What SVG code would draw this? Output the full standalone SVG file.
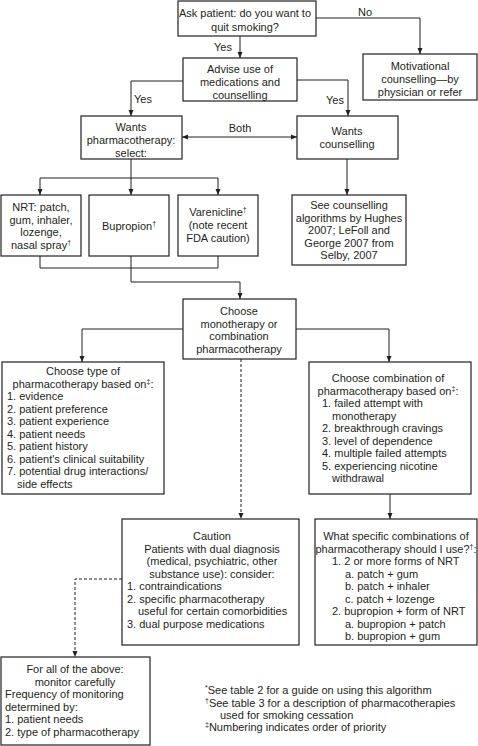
<svg xmlns="http://www.w3.org/2000/svg" width="478" height="746" viewBox="0 0 478 746">
<style>
.box{fill:#fff;stroke:#231f20;stroke-width:1.2}
.ln{fill:none;stroke:#231f20;stroke-width:1}
.dash{stroke-dasharray:3,2}
text{font-family:"Liberation Sans",Arial,sans-serif;font-size:11px;fill:#231f20}
.c{text-anchor:middle}
.sup{font-size:7px}
</style>
<defs>
<marker id="ah" markerUnits="userSpaceOnUse" markerWidth="6" markerHeight="6" refX="6" refY="3" orient="auto-start-reverse">
<path d="M0,0.5 L6,3 L0,5.5 z" fill="#231f20"/>
</marker>
</defs>
<rect width="478" height="746" fill="#fff"/>
<g id="connectors">
<path class="ln" d="M316,18 H420 V54" marker-end="url(#ah)"/>
<path class="ln" d="M240,36 V58" marker-end="url(#ah)"/>
<path class="ln" d="M297,80 H348 V116" marker-end="url(#ah)"/>
<path class="ln" d="M183,81 H131 V116" marker-end="url(#ah)"/>
<path class="ln" d="M182,137 H297" marker-start="url(#ah)" marker-end="url(#ah)"/>
<path class="ln" d="M347,159 V195" marker-end="url(#ah)"/>
<path class="ln" d="M131,159 V195" marker-end="url(#ah)"/>
<path class="ln" d="M40,195 V178 H218 V195" marker-start="url(#ah)" marker-end="url(#ah)"/>
<path class="ln" d="M40,256 V268 H218 V256"/>
<path class="ln" d="M131,256 V282 H240 V299" marker-end="url(#ah)"/>
<path class="ln" d="M183,329 H82 V362" marker-end="url(#ah)"/>
<path class="ln" d="M296,329 H389 V362" marker-end="url(#ah)"/>
<path class="ln dash" d="M241,359 V519" marker-end="url(#ah)"/>
<path class="ln" d="M390,494 V519" marker-end="url(#ah)"/>
<path class="ln dash" d="M122,579 H75 V657" marker-end="url(#ah)"/>
<text class="c" x="365" y="16">No</text>
<text class="c" x="223" y="51">Yes</text>
<text class="c" x="335" y="104">Yes</text>
<text class="c" x="143" y="103">Yes</text>
<text class="c" x="240" y="132">Both</text>
</g>
<g id="ask">
<rect class="box" x="178" y="1" width="138" height="35"/>
<text class="c" x="245" y="17">Ask patient: do you want to</text>
<text class="c" x="245" y="31">quit smoking?</text>
</g>
<g id="motivational">
<rect class="box" x="363" y="54" width="114" height="46"/>
<text class="c" x="420" y="70">Motivational</text>
<text class="c" x="420" y="83">counselling—by</text>
<text class="c" x="420" y="96">physician or refer</text>
</g>
<g id="advise">
<rect class="box" x="183" y="58" width="114" height="43"/>
<text class="c" x="240" y="73">Advise use of</text>
<text class="c" x="240" y="86">medications and</text>
<text class="c" x="240" y="99">counselling</text>
</g>
<g id="wants-pharma">
<rect class="box" x="81" y="116" width="101" height="43"/>
<text class="c" x="131" y="131">Wants</text>
<text class="c" x="131" y="144">pharmacotherapy:</text>
<text class="c" x="131" y="157">select:</text>
</g>
<g id="wants-counselling">
<rect class="box" x="297" y="116" width="101" height="43"/>
<text class="c" x="347" y="135">Wants</text>
<text class="c" x="347" y="148">counselling</text>
</g>
<g id="see-counselling">
<rect class="box" x="292" y="195" width="114" height="70"/>
<text class="c" x="349" y="209">See counselling</text>
<text class="c" x="349" y="221.5">algorithms by Hughes</text>
<text class="c" x="349" y="234">2007; LeFoll and</text>
<text class="c" x="349" y="246.5">George 2007 from</text>
<text class="c" x="349" y="259">Selby, 2007</text>
</g>
<g id="nrt">
<rect class="box" x="1" y="195" width="80" height="61"/>
<text class="c" x="41" y="211">NRT: patch,</text>
<text class="c" x="41" y="224">gum, inhaler,</text>
<text class="c" x="41" y="236">lozenge,</text>
<text class="c" x="41" y="249">nasal spray<tspan class="sup" dy="-4">†</tspan></text>
</g>
<g id="bupropion">
<rect class="box" x="89" y="195" width="80" height="61"/>
<text class="c" x="129" y="230">Bupropion<tspan class="sup" dy="-4">†</tspan></text>
</g>
<g id="varenicline">
<rect class="box" x="178" y="195" width="80" height="61"/>
<text class="c" x="218" y="216">Varenicline<tspan class="sup" dy="-4">†</tspan></text>
<text class="c" x="218" y="229">(note recent</text>
<text class="c" x="218" y="242">FDA caution)</text>
</g>
<g id="choose">
<rect class="box" x="183" y="299" width="113" height="60"/>
<text class="c" x="239" y="315">Choose</text>
<text class="c" x="239" y="328">monotherapy or</text>
<text class="c" x="239" y="340">combination</text>
<text class="c" x="239" y="353">pharmacotherapy</text>
</g>
<g id="choose-type">
<rect class="box" x="2" y="362" width="162" height="132"/>
<text class="c" x="83" y="375">Choose type of</text>
<text class="c" x="83" y="387.5">pharmacotherapy based on<tspan class="sup" dy="-4">‡</tspan><tspan dy="4">:</tspan></text>
<text x="7" y="400">1. evidence</text>
<text x="7" y="412.5">2. patient preference</text>
<text x="7" y="425">3. patient experience</text>
<text x="7" y="437.5">4. patient needs</text>
<text x="7" y="450">5. patient history</text>
<text x="7" y="462.5">6. patient's clinical suitability</text>
<text x="7" y="475">7. potential drug interactions/</text>
<text x="17" y="487.5">side effects</text>
</g>
<g id="combination">
<rect class="box" x="309" y="362" width="162" height="132"/>
<text class="c" x="388" y="382">Choose combination of</text>
<text class="c" x="388" y="394.5">pharmacotherapy based on<tspan class="sup" dy="-4">‡</tspan><tspan dy="4">:</tspan></text>
<text x="322" y="407">1. failed attempt with</text>
<text x="332" y="419.5">monotherapy</text>
<text x="322" y="432">2. breakthrough cravings</text>
<text x="322" y="444.5">3. level of dependence</text>
<text x="322" y="457">4. multiple failed attempts</text>
<text x="322" y="469.5">5. experiencing nicotine</text>
<text x="332" y="482">withdrawal</text>
</g>
<g id="caution">
<rect class="box" x="122" y="519" width="177" height="126"/>
<text class="c" x="212" y="540">Caution</text>
<text class="c" x="212" y="552.5">Patients with dual diagnosis</text>
<text class="c" x="212" y="565">(medical, psychiatric, other</text>
<text class="c" x="212" y="577.5">substance use): consider:</text>
<text x="127" y="590">1. contraindications</text>
<text x="127" y="602.5">2. specific pharmacotherapy</text>
<text x="138" y="615">useful for certain comorbidities</text>
<text x="127" y="627.5">3. dual purpose medications</text>
</g>
<g id="specific">
<rect class="box" x="315" y="519" width="162" height="126"/>
<text class="c" x="396" y="540">What specific combinations of</text>
<text class="c" x="396" y="552.5">pharmacotherapy should I use?<tspan class="sup" dy="-4">†</tspan><tspan dy="4">:</tspan></text>
<text x="332" y="565">1. 2 or more forms of NRT</text>
<text x="345" y="577.5">a. patch + gum</text>
<text x="345" y="590">b. patch + inhaler</text>
<text x="345" y="602.5">c. patch + lozenge</text>
<text x="332" y="615">2. bupropion + form of NRT</text>
<text x="345" y="627.5">a. bupropion + patch</text>
<text x="345" y="640">b. bupropion + gum</text>
</g>
<g id="monitor">
<rect class="box" x="1" y="657" width="149" height="88"/>
<text class="c" x="75" y="673">For all of the above:</text>
<text class="c" x="75" y="685.5">monitor carefully</text>
<text x="5" y="698">Frequency of monitoring</text>
<text x="5" y="710.5">determined by:</text>
<text x="5" y="723">1. patient needs</text>
<text x="5" y="735.5">2. type of pharmacotherapy</text>
</g>
<g id="footnotes">
<text x="205" y="694"><tspan class="sup" dy="-4">*</tspan><tspan dy="4">See table 2 for a guide on using this algorithm</tspan></text>
<text x="205" y="707"><tspan class="sup" dy="-4">†</tspan><tspan dy="4">See table 3 for a description of pharmacotherapies</tspan></text>
<text x="220" y="719">used for smoking cessation</text>
<text x="205" y="731"><tspan class="sup" dy="-4">‡</tspan><tspan dy="4">Numbering indicates order of priority</tspan></text>
</g>
</svg>
